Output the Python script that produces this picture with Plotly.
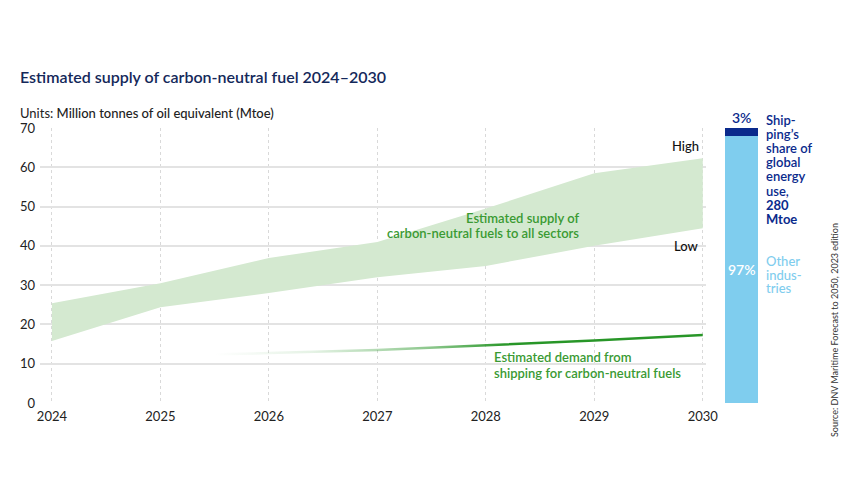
import plotly.graph_objects as go

years = [2024, 2025, 2026, 2027, 2028, 2029, 2030]
supply_high = [25.4, 30.5, 36.9, 41.0, 49.5, 58.5, 62.3]
supply_low = [15.8, 24.4, 28.0, 32.0, 34.9, 40.0, 44.5]
demand_years = [2025.5, 2026, 2027, 2028, 2029, 2030]
demand = [12.4, 12.7, 13.5, 14.7, 15.9, 17.3]
share_labels = ["Other industries", "Shipping"]
share_values = [97, 3]
y_ticks = [0, 10, 20, 30, 40, 50, 60, 70]

FONT = "Lato"
GREEN = "#3a9a33"
BAND = "#d4e9d0"
LIGHT_BLUE = "#7fcdee"
DARK_BLUE = "#0a2a8c"

fig = go.Figure()

# supply band
fig.add_trace(go.Scatter(x=years, y=supply_low, mode="lines", line=dict(width=0),
                         hoverinfo="skip", showlegend=False))
fig.add_trace(go.Scatter(x=years, y=supply_high, mode="lines", line=dict(width=0),
                         fill="tonexty", fillcolor=BAND, hoverinfo="skip", showlegend=False))

# demand line with fade-in (thin gradient-filled strip)
hw = 0.32
fig.add_trace(go.Scatter(x=demand_years, y=[v - hw for v in demand], mode="lines",
                         line=dict(width=0), hoverinfo="skip", showlegend=False))
fig.add_trace(go.Scatter(x=demand_years, y=[v + hw for v in demand], mode="lines",
                         line=dict(width=0), fill="tonexty",
                         fillgradient=dict(type="horizontal",
                                           colorscale=[[0, "rgba(40,150,40,0)"],
                                                       [0.2, "rgba(40,150,40,0.12)"],
                                                       [0.45, "rgba(40,150,40,0.55)"],
                                                       [0.6, "rgba(40,150,40,1)"],
                                                       [1, "rgba(40,150,40,1)"]]),
                         hoverinfo="skip", showlegend=False))

# share bar
fig.add_trace(go.Bar(x=[0], y=[share_values[0]], marker=dict(color=LIGHT_BLUE, line=dict(width=0)),
                     width=1, xaxis="x2", yaxis="y2", showlegend=False, hoverinfo="skip"))
fig.add_trace(go.Bar(x=[0], y=[share_values[1]], marker=dict(color=DARK_BLUE, line=dict(width=0)),
                     width=1, xaxis="x2", yaxis="y2", showlegend=False, hoverinfo="skip"))

L, R, T, B = 40, 90, 128, 97
W = 850 - L - R
H = 500 - T - B

def px(xp):
    return (xp - L) / W

def py(yp):
    return (500 - B - yp) / H

fig.update_layout(
    width=850, height=500,
    margin=dict(l=L, r=R, t=T, b=B),
    paper_bgcolor="white", plot_bgcolor="white",
    barmode="stack",
    font=dict(family=FONT, color="#222222", size=13),
    xaxis=dict(domain=[0, px(706)], range=[2023.89, 2030.03],
               tickvals=years, ticktext=[str(y) for y in years],
               showgrid=True, gridcolor="#d9d9d9", griddash="dot", gridwidth=1,
               zeroline=False, showline=False, ticks="", tickfont=dict(size=13, color="#222"),
               ticklabelstandoff=4),
    yaxis=dict(range=[0, 70], tickvals=y_ticks, showgrid=True, gridcolor="#e3e3e3",
               gridwidth=1.5, zeroline=False, showline=False, ticks="",
               tickfont=dict(size=13, color="#222"), ticklabelstandoff=4),
    xaxis2=dict(domain=[px(725), px(758)], range=[-0.5, 0.5], visible=False, anchor="y2"),
    yaxis2=dict(range=[0, 100], visible=False, anchor="x2", overlaying="y"),
)

ann = []

def text_at(t, x, y, xanchor="left", size=13, color="#222", weight=400, **kw):
    ann.append(dict(text=t, xref="paper", yref="paper", x=px(x), y=py(y), xanchor=xanchor,
                    yanchor="middle", showarrow=False,
                    font=dict(size=size, color=color, family=FONT, weight=weight), **kw))

text_at("Estimated supply of carbon-neutral fuel 2024–2030", 18, 77, size=16, color="#14285a", weight=600)
text_at("Units: <span style='font-weight:500'>Million tonnes of oil equivalent (Mtoe)</span>", 18, 113)
text_at("Estimated supply of", 581, 218, xanchor="right", color=GREEN, weight=600)
text_at("carbon-neutral fuels to all sectors", 581, 233, xanchor="right", color=GREEN, weight=600)
text_at("High", 701, 146, xanchor="right", color="#111", weight=500)
text_at("Low", 701, 246, xanchor="right", color="#111", weight=500)
text_at("Estimated demand from", 492, 357, color=GREEN, weight=600)
text_at("shipping for carbon-neutral fuels", 492, 373, color=GREEN, weight=600)

ann.append(dict(text=f"{share_values[1]}%", xref="x2", yref="y2", x=0, y=100, yanchor="bottom",
                xanchor="center", showarrow=False,
                font=dict(size=14, color=DARK_BLUE, weight=600)))
ann.append(dict(text=f"{share_values[0]}%", xref="x2", yref="y2", x=0, y=48.5, yanchor="middle",
                xanchor="center", showarrow=False,
                font=dict(size=14, color="white", weight=600)))

ship_lines = ["Ship-", "ping’s", "share of", "global", "energy", "use,", "<b>280</b>", "<b>Mtoe</b>"]
for i, t in enumerate(ship_lines):
    text_at(t, 764, 120 + i * 14.1, color=DARK_BLUE, weight=600)
other_lines = ["Other", "indus-", "tries"]
for i, t in enumerate(other_lines):
    text_at(t, 764, 261 + i * 13.6, color=LIGHT_BLUE, weight=500)

ann.append(dict(text="Source: DNV Maritime Forecast to 2050, 2023 edition", xref="paper", yref="paper",
                x=px(834), y=py(330), xanchor="center", yanchor="middle", textangle=-90,
                showarrow=False, font=dict(size=9, color="#333")))
fig.update_layout(annotations=ann)

fig.write_html("out.html")
